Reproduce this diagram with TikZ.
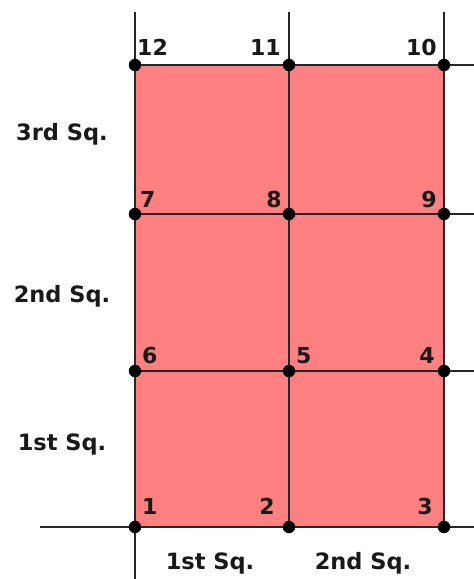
\documentclass[tikz,border=0pt]{standalone}
\usepackage{fontspec}
\setmainfont{DejaVu Sans}
\begin{document}
\begin{tikzpicture}[x=1pt,y=-1pt,
  dot/.style={circle,fill=black,inner sep=0pt,minimum size=12.5pt},
  gridline/.style={draw=black!85,line width=1.3pt},
  lbl/.style={font=\fontsize{22}{24}\selectfont\bfseries,inner sep=0pt,text=black!90},
  sq/.style={font=\fontsize{22.5}{24}\selectfont\bfseries,inner sep=0pt,text=black!90}]
\useasboundingbox (0,0) rectangle (474,579);
\fill[fill={rgb,255:red,255;green,128;blue,128}] (135,65) rectangle (444,527);
% dots
\coordinate (c1) at (135,527);
\coordinate (c2) at (289,527);
\coordinate (c3) at (444,527);
\coordinate (c4) at (444,371);
\coordinate (c5) at (289,371);
\coordinate (c6) at (135,371);
\coordinate (c7) at (135,214);
\coordinate (c8) at (289,214);
\coordinate (c9) at (444,214);
\coordinate (c10) at (444,65);
\coordinate (c11) at (289,65);
\coordinate (c12) at (135,65);
% free ends
\coordinate (tl) at (135,12);
\coordinate (tm) at (289,12);
\coordinate (tr) at (444,12);
\coordinate (bl) at (135,579);
\coordinate (lb) at (40,527);
\coordinate (r1) at (474,527);
\coordinate (r2) at (474,371);
\coordinate (r3) at (474,214);
\coordinate (r4) at (474,65);
% lines
\draw[gridline] (tl) -- (bl);
\draw[gridline] (tm) -- (c2);
\draw[gridline] (tr) -- (c3);
\draw[gridline] (lb) -- (r1);
\draw[gridline] (c6) -- (r2);
\draw[gridline] (c7) -- (r3);
\draw[gridline] (c12) -- (r4);
% dots
\foreach \i in {1,...,12} \node[dot] (d\i) at (c\i) {};
% numbers
\node[lbl,anchor=base west] (n12) at (137,55) {12};
\node[lbl,anchor=base east] (n11) at (281,55) {11};
\node[lbl,anchor=base east] (n10) at (437,55) {10};
\node[lbl,anchor=base west] (n7) at (140,207) {7};
\node[lbl,anchor=base east] (n8) at (282,207) {8};
\node[lbl,anchor=base east] (n9) at (437,207) {9};
\node[lbl,anchor=base west] (n6) at (142,363) {6};
\node[lbl,anchor=base west] (n5) at (296,363) {5};
\node[lbl,anchor=base east] (n4) at (435,363) {4};
\node[lbl,anchor=base west] (n1) at (142,514) {1};
\node[lbl,anchor=base east] (n2) at (275,514) {2};
\node[lbl,anchor=base east] (n3) at (433,514) {3};
% square labels
\node[sq,anchor=base] (s3) at (62,140) {3rd Sq.};
\node[sq,anchor=base] (s2) at (62,302) {2nd Sq.};
\node[sq,anchor=base] (s1) at (62,450) {1st Sq.};
\node[sq,anchor=base] (b1) at (210,569) {1st Sq.};
\node[sq,anchor=base] (b2) at (363,569) {2nd Sq.};
\end{tikzpicture}
\end{document}
